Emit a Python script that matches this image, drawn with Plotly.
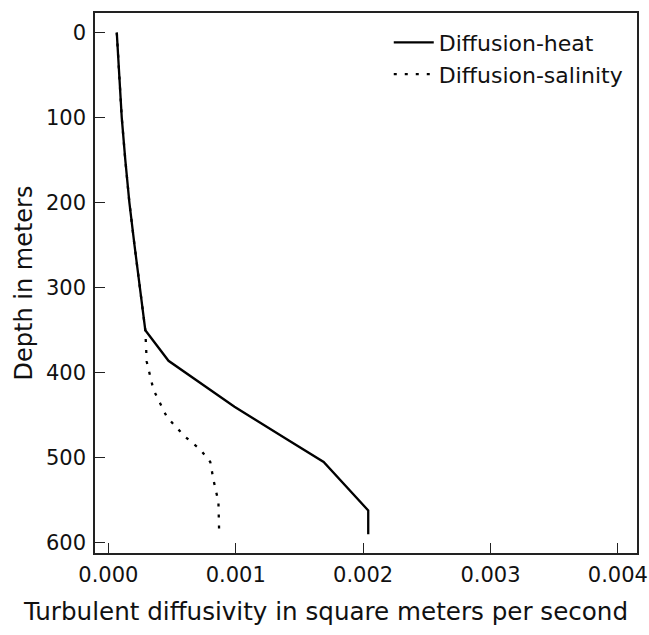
import plotly.graph_objects as go

# Depth (m) and turbulent diffusivity (m^2/s)
heat_depth = [0, 50, 100, 150, 200, 250, 300, 350, 386, 440, 480, 505, 562, 590]
heat_kappa = [0.000066, 0.000085, 0.000105, 0.000133, 0.000165, 0.000205, 0.000249,
              0.000290, 0.000472, 0.000990, 0.001420, 0.001690, 0.002040, 0.002040]

salt_depth = [0, 50, 100, 150, 200, 250, 300, 350, 387, 420, 452, 475, 490, 505, 526, 552, 590]
salt_kappa = [0.000066, 0.000085, 0.000105, 0.000133, 0.000165, 0.000205, 0.000249,
              0.000290, 0.000301, 0.000354, 0.000459, 0.000600, 0.000720, 0.000800,
              0.000825, 0.000864, 0.000870]

x_ticks = [0.0, 0.001, 0.002, 0.003, 0.004]
y_ticks = [0, 100, 200, 300, 400, 500, 600]

x_title = "Turbulent diffusivity in square meters per second"
y_title = "Depth in meters"

FONT = "DejaVu Sans"

fig = go.Figure()
fig.add_trace(go.Scatter(x=heat_kappa, y=heat_depth, mode="lines", name="Diffusion-heat",
                         line=dict(color="black", width=2.3)))
fig.add_trace(go.Scatter(x=salt_kappa, y=salt_depth, mode="lines", name="Diffusion-salinity",
                         line=dict(color="black", width=2.3, dash="3px,8px")))

axis_common = dict(showline=True, linecolor="#222", linewidth=1.5, mirror=True,
                   ticks="inside", ticklen=10, tickwidth=1.3, tickcolor="#222",
                   showgrid=False, zeroline=False, ticklabeloverflow="allow",
                   tickfont=dict(family=FONT, size=21, color="#111"))

fig.update_xaxes(range=[-0.000105, 0.00415], tickvals=x_ticks, tickformat=".3f",
                 ticklabelstandoff=2, automargin=False, **axis_common)
fig.update_yaxes(range=[612, -23], tickvals=y_ticks,
                 title=dict(text=y_title,
                            font=dict(family=FONT, size=24, color="#111"), standoff=7),
                 ticklabelstandoff=3, automargin=False, **axis_common)

# x-axis title, centred on the page like the reference
fig.add_annotation(text=x_title, xref="paper", yref="paper", x=0.426, y=-0.109,
                   xanchor="center", yanchor="middle", showarrow=False,
                   font=dict(family=FONT, size=24.6, color="#111"))

fig.update_layout(
    width=649, height=635,
    margin=dict(l=95, r=12, t=13, b=82),
    paper_bgcolor="white", plot_bgcolor="white",
    font=dict(family=FONT, color="#111"),
    showlegend=True,
    legend=dict(x=0.542, y=0.984, xanchor="left", yanchor="top",
                bgcolor="rgba(0,0,0,0)", font=dict(family=FONT, size=22, color="#111"),
                itemwidth=40, tracegroupgap=0),
)

fig.write_html("out.html", config={"displayModeBar": False},
               post_script="document.body.style.margin='0';document.body.style.overflow='hidden';")
